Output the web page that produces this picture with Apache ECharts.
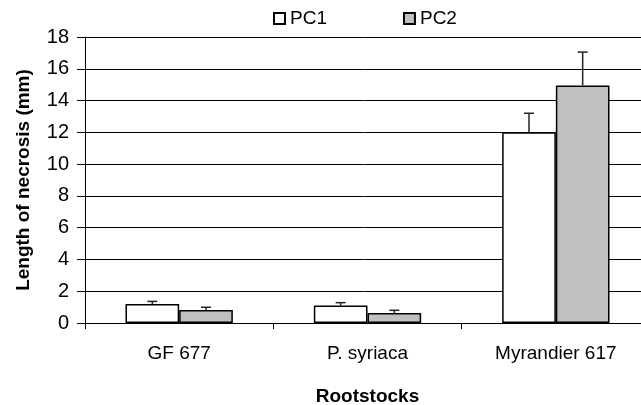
<!DOCTYPE html>
<html><head><meta charset="utf-8">
<script src="https://cdn.jsdelivr.net/npm/echarts@6/dist/echarts.min.js"></script>
<style>html,body{margin:0;padding:0;background:#fff}#c{width:641px;height:405px}</style>
</head><body><div id="c"></div>
<script>
var categories = ['GF 677', 'P. syriaca', 'Myrandier 617'];
var pc1 = [1.2, 1.1, 12.0];
var pc1Err = [0.16, 0.18, 1.2];
var pc2 = [0.82, 0.63, 14.95];
var pc2Err = [0.17, 0.17, 2.1];
var yTicks = [0, 2, 4, 6, 8, 10, 12, 14, 16, 18];

var FONT = 'Liberation Sans, Arial, sans-serif';
var gapRatio = 0.43;
function errSeries(vals, errs, side) {
  return {
    type: 'custom',
    z: 5,
    silent: true,
    data: categories.map(function (c, i) { return [i, vals[i], vals[i] + errs[i]]; }),
    renderItem: function (params, api) {
      var band = api.size([1, 0])[0];
      var bw = band * (1 - gapRatio) / 2;
      var base = api.coord([api.value(0), api.value(1)]);
      var top = api.coord([api.value(0), api.value(2)]);
      var x = base[0] + side * bw / 2;
      var cap = 5;
      return {
        type: 'group',
        children: [
          { type: 'line', shape: { x1: x, y1: base[1], x2: x, y2: top[1] }, style: { stroke: '#222', lineWidth: 1.5 } },
          { type: 'line', shape: { x1: x - cap, y1: top[1], x2: x + cap, y2: top[1] }, style: { stroke: '#222', lineWidth: 1.5 } }
        ]
      };
    }
  };
}

var chart = echarts.init(document.getElementById('c'), null, { renderer: 'canvas' });
chart.setOption({
  animation: false,
  backgroundColor: '#fff',
  textStyle: { fontFamily: FONT },
  legend: {
    top: 4, left: 268,
    itemWidth: 11, itemHeight: 11, itemGap: 76,
    icon: 'rect',
    textStyle: { fontSize: 19, color: '#000', fontFamily: FONT },
    data: ['PC1', 'PC2']
  },
  grid: { left: 85, top: 37, width: 565, height: 286, containLabel: false, outerBoundsMode: 'none' },
  xAxis: {
    type: 'category',
    data: categories,
    name: 'Rootstocks',
    nameLocation: 'middle',
    nameGap: 64,
    nameTextStyle: { fontSize: 19, fontWeight: 'bold', color: '#000', fontFamily: FONT },
    axisLine: { lineStyle: { color: '#000', width: 1 } },
    axisTick: { show: true, length: 6, lineStyle: { color: '#000' } },
    axisLabel: { fontSize: 19, color: '#000', margin: 21, fontFamily: FONT },
    splitLine: { show: false }
  },
  yAxis: {
    type: 'value',
    min: 0, max: 18, interval: 2,
    name: 'Length of necrosis (mm)',
    nameLocation: 'middle',
    nameGap: 52,
    nameTextStyle: { fontSize: 19, fontWeight: 'bold', color: '#000', fontFamily: FONT },
    axisLine: { show: true, lineStyle: { color: '#000', width: 1 } },
    axisTick: { show: true, length: 8, lineStyle: { color: '#000' } },
    axisLabel: { fontSize: 20, color: '#000', margin: 16, fontFamily: FONT,
      formatter: function (v) { return yTicks.indexOf(v) >= 0 ? String(v) : ''; } },
    splitLine: { show: true, lineStyle: { color: '#000', width: 1 } }
  },
  series: [
    { name: 'PC1', type: 'bar', data: pc1, barGap: '0%', barCategoryGap: '43%',
      itemStyle: { color: '#ffffff', borderColor: '#000', borderWidth: 1.5 } },
    { name: 'PC2', type: 'bar', data: pc2, barGap: '0%', barCategoryGap: '43%',
      itemStyle: { color: '#c0c0c0', borderColor: '#000', borderWidth: 1.5 } },
    errSeries(pc1, pc1Err, -1),
    errSeries(pc2, pc2Err, 1)
  ]
});
</script>
</body></html>
